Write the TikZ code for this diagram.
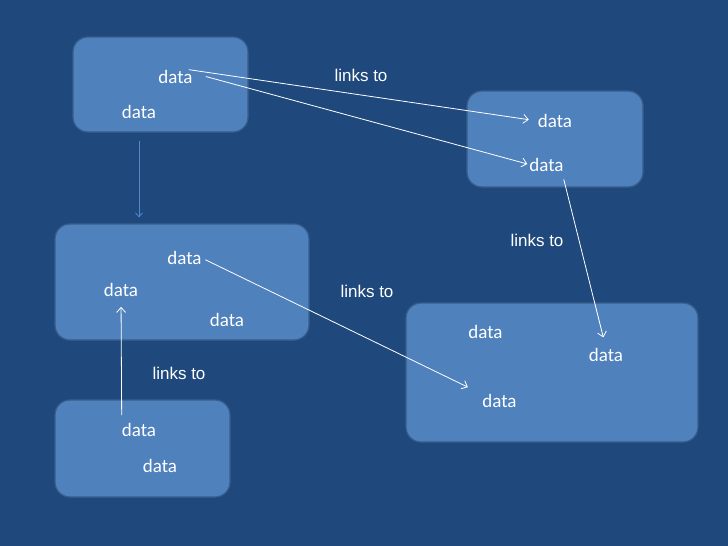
\documentclass[tikz,border=0pt]{standalone}
\usepackage{fontspec}
\setmainfont{Carlito}
\newfontfamily\arialfont{Liberation Sans}
\usepackage{xcolor}
\usetikzlibrary{arrows.meta,calc,positioning}
\definecolor{slidebg}{HTML}{1F497D}
\definecolor{cardfill}{HTML}{4F81BD}
\definecolor{cardline}{HTML}{385D8A}
\definecolor{softarrow}{HTML}{5088C8}

\begin{document}
\begin{tikzpicture}[x=1pt,y=-1pt,
  card/.style={draw=cardline,line width=1.2pt,fill=cardfill,rounded corners=15pt,inner sep=0pt},
  datum/.style={text=white,font=\fontsize{19}{21}\selectfont,inner sep=0pt},
  linklbl/.style={text=white,font=\arialfont\fontsize{17}{19}\selectfont,inner sep=0pt},
  linkto/.style={draw=white,line width=0.8pt,-{Straight Barb[length=5pt,width=9pt]}}]
  \fill[slidebg] (0,0) rectangle (728,546);
  \node[card,minimum width=175pt,minimum height=95pt] (box1) at (160.5,84.5) {};
  \node[card,minimum width=176pt,minimum height=96pt] (box2) at (555,139) {};
  \node[card,minimum width=254pt,minimum height=116pt] (box3) at (182,282) {};
  \node[card,minimum width=292pt,minimum height=139pt] (box4) at (552,372.5) {};
  \node[card,minimum width=175pt,minimum height=97pt] (box5) at (142.5,448.5) {};
  \node[datum] (a1) at (175.5,76.5) {data};
  \node[datum] (a2) at (139,112) {data};
  \node[datum] (b1) at (555,121) {data};
  \node[datum] (b2) at (546.5,164.5) {data};
  \node[datum] (c1) at (184.5,258) {data};
  \node[datum] (c2) at (121,290) {data};
  \node[datum] (c3) at (227,319.5) {data};
  \node[datum] (d1) at (485.5,331.5) {data};
  \node[datum] (d2) at (606,355) {data};
  \node[datum] (d3) at (499.5,401) {data};
  \node[datum] (e1) at (139,430) {data};
  \node[datum] (e2) at (160,466) {data};
  \node[linklbl] (l1) at (361,75.5) {links to};
  \node[linklbl] (l2) at (537,240.5) {links to};
  \node[linklbl] (l3) at (367,291) {links to};
  \node[linklbl] (l4) at (179,373.5) {links to};
  \draw[softarrow,line width=0.8pt,-{Straight Barb[length=4pt,width=7pt]},shorten <=8pt,shorten >=6pt] (a2 |- box1.south) -- (a2 |- box3.north);
  \draw[linkto,shorten >=9pt] ([xshift=-4pt]a1.north east) -- (b1.west);
  \draw[linkto,shorten >=2pt] ([xshift=13pt]a1.east) -- (b2.west);
  \draw[linkto,shorten >=11pt] ([yshift=-8pt]b2.south east) -- (d2.north);
  \draw[linkto,shorten <=4pt,shorten >=16pt] (c1.east) -- (d3.north west);
  \draw[linkto,shorten <=8pt,shorten >=10pt] (e1.north west) -- (c2.south);
\end{tikzpicture}
\end{document}
